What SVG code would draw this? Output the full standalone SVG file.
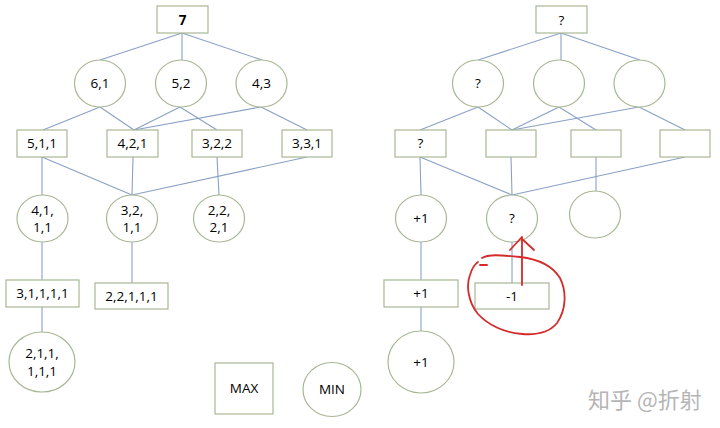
<svg xmlns="http://www.w3.org/2000/svg" width="720" height="428" viewBox="0 0 720 428">
<style>
.n{fill:#fff;stroke:#a7b793;stroke-width:1.2}
.t{font-family:"Open Sans","Noto Sans",sans-serif;font-size:13.5px;fill:#000;text-anchor:middle}
.c line{stroke:#8aa0c6;stroke-width:1.1}
.red{fill:none;stroke:#d42b2b;stroke-width:1.8;stroke-linecap:round;stroke-linejoin:round}
.wm{font-family:"Noto Sans CJK SC","Noto Sans",sans-serif;font-size:22px;fill:#b5b5b5}
</style>
<rect width="720" height="428" fill="#fff"/>
<g class="c" id="connectors">
<line x1="182" y1="33" x2="100" y2="60"/>
<line x1="182" y1="33" x2="182" y2="60"/>
<line x1="182" y1="33" x2="262" y2="60"/>
<line x1="100" y1="107" x2="43" y2="130"/>
<line x1="100" y1="107" x2="134" y2="130"/>
<line x1="180" y1="107" x2="134" y2="130"/>
<line x1="180" y1="107" x2="217" y2="130"/>
<line x1="261" y1="107" x2="134" y2="130"/>
<line x1="261" y1="107" x2="307" y2="130"/>
<line x1="42" y1="157" x2="42" y2="195"/>
<line x1="42" y1="157" x2="132" y2="195"/>
<line x1="133" y1="157" x2="132" y2="195"/>
<line x1="217" y1="157" x2="219" y2="195"/>
<line x1="307" y1="157" x2="132" y2="195"/>
<line x1="42" y1="242" x2="42" y2="280"/>
<line x1="132" y1="242" x2="132" y2="283"/>
<line x1="42" y1="307" x2="42" y2="332"/>
<line x1="561" y1="33" x2="478" y2="60"/>
<line x1="561" y1="33" x2="561" y2="60"/>
<line x1="561" y1="33" x2="640" y2="60"/>
<line x1="478" y1="107" x2="420" y2="130"/>
<line x1="478" y1="107" x2="512" y2="130"/>
<line x1="559" y1="107" x2="512" y2="130"/>
<line x1="559" y1="107" x2="596" y2="130"/>
<line x1="639" y1="107" x2="512" y2="130"/>
<line x1="639" y1="107" x2="685" y2="130"/>
<line x1="420" y1="157" x2="421" y2="195"/>
<line x1="420" y1="157" x2="512" y2="195"/>
<line x1="511" y1="157" x2="512" y2="195"/>
<line x1="596" y1="157" x2="596" y2="191"/>
<line x1="685" y1="157" x2="512" y2="195"/>
<line x1="421" y1="242" x2="421" y2="280"/>
<line x1="512" y1="242" x2="512" y2="283"/>
<line x1="421" y1="307" x2="421" y2="331"/>
</g>
<g id="L7"><rect class="n" x="157" y="6" width="51" height="27"/><text class="t" x="182.5" y="25" font-weight="bold">7</text></g>
<g id="L61"><ellipse class="n" cx="100" cy="83.5" rx="25.5" ry="23.5"/><text class="t" x="100" y="88">6,1</text></g>
<g id="L52"><ellipse class="n" cx="181" cy="83.5" rx="25.5" ry="23.5"/><text class="t" x="181" y="88">5,2</text></g>
<g id="L43"><ellipse class="n" cx="261.5" cy="83.5" rx="25.5" ry="23.5"/><text class="t" x="261.5" y="88">4,3</text></g>
<g id="L511"><rect class="n" x="17" y="130" width="50" height="27"/><text class="t" x="42" y="148">5,1,1</text></g>
<g id="L421"><rect class="n" x="107" y="130" width="51" height="27"/><text class="t" x="132.5" y="148">4,2,1</text></g>
<g id="L322"><rect class="n" x="192" y="130" width="50" height="27"/><text class="t" x="217" y="148">3,2,2</text></g>
<g id="L331"><rect class="n" x="282" y="130" width="50" height="27"/><text class="t" x="307" y="148">3,3,1</text></g>
<g id="L4111"><ellipse class="n" cx="42.5" cy="218.5" rx="25.5" ry="23.5"/><text class="t" x="42.5" y="215">4,1,</text><text class="t" x="42.5" y="232">1,1</text></g>
<g id="L3211"><ellipse class="n" cx="132" cy="218.5" rx="25.5" ry="23.5"/><text class="t" x="132" y="215">3,2,</text><text class="t" x="132" y="232">1,1</text></g>
<g id="L2221"><ellipse class="n" cx="219" cy="218.5" rx="25.5" ry="23.5"/><text class="t" x="219" y="215">2,2,</text><text class="t" x="219" y="232">2,1</text></g>
<g id="L31111"><rect class="n" x="6" y="280" width="73" height="27"/><text class="t" x="42.5" y="298">3,1,1,1,1</text></g>
<g id="L22111"><rect class="n" x="95" y="283" width="73" height="26"/><text class="t" x="131.5" y="301">2,2,1,1,1</text></g>
<g id="L211111"><ellipse class="n" cx="42" cy="362" rx="33" ry="30"/><text class="t" x="42" y="358">2,1,1,</text><text class="t" x="42" y="376">1,1,1</text></g>
<g id="legendMax"><rect class="n" x="215" y="363" width="58" height="51"/><text class="t" x="244" y="393">MAX</text></g>
<g id="legendMin"><ellipse class="n" cx="332" cy="389.5" rx="29" ry="27"/><text class="t" x="332" y="394">MIN</text></g>
<g id="R0"><rect class="n" x="536" y="6" width="51" height="27"/><text class="t" x="561.5" y="25">?</text></g>
<g id="R1"><ellipse class="n" cx="478" cy="83.5" rx="25.5" ry="23.5"/><text class="t" x="478" y="88">?</text></g>
<g id="R2"><ellipse class="n" cx="559" cy="83.5" rx="25.5" ry="23.5"/></g>
<g id="R3"><ellipse class="n" cx="639.5" cy="83.5" rx="25.5" ry="23.5"/></g>
<g id="R4"><rect class="n" x="395" y="130" width="51" height="27"/><text class="t" x="420.5" y="148">?</text></g>
<g id="R5"><rect class="n" x="486" y="130" width="50" height="27"/></g>
<g id="R6"><rect class="n" x="571" y="130" width="50" height="27"/></g>
<g id="R7"><rect class="n" x="660" y="130" width="50" height="27"/></g>
<g id="R8"><ellipse class="n" cx="421" cy="218.5" rx="25.5" ry="23.5"/><text class="t" x="421" y="223">+1</text></g>
<g id="R9"><ellipse class="n" cx="512" cy="218.5" rx="25.5" ry="23.5"/><text class="t" x="512" y="223">?</text></g>
<g id="R10"><ellipse class="n" cx="595" cy="214.5" rx="25.5" ry="23.5"/></g>
<g id="R11"><rect class="n" x="384" y="280" width="74" height="27"/><text class="t" x="421" y="298">+1</text></g>
<g id="R12"><rect class="n" x="475" y="283" width="74" height="26"/><text class="t" x="512" y="301">-1</text></g>
<g id="R13"><ellipse class="n" cx="421" cy="362" rx="33" ry="31"/><text class="t" x="421" y="367">+1</text></g>
<g id="annotation">
<path class="red" d="M480,265 L487,265"/>
<path class="red" d="M482,258 C488,254 500,255 520,257 C537,259 552,265 560,278 C567,292 566,310 557,323 C549,333 535,335 522,334 C505,333 488,325 478,314 C468,302 466,285 470,275 C472,268 475,264 478,262"/>
<path class="red" d="M522,285 L522,237"/>
<path class="red" d="M510,250 L521,238 L534,250"/>
</g>
<text class="wm" x="588" y="408">知乎 @折射</text>
</svg>
